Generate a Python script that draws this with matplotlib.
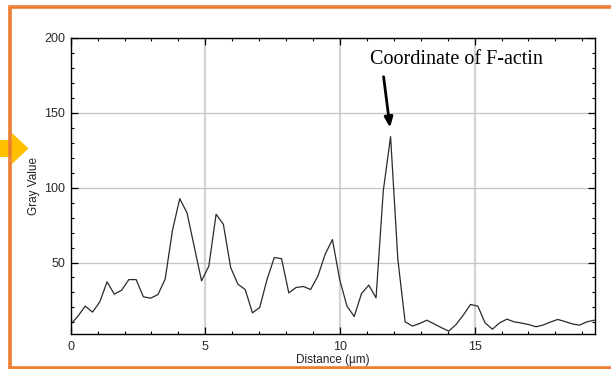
import numpy as np
import matplotlib
matplotlib.use("Agg")
import matplotlib.pyplot as plt
from matplotlib.patches import Polygon

# ==============================
# Profile data
# ==============================

step_um = 0.27  # sampling distance of the line profile
gray_value = [
    8.7, 14.2, 20.9, 16.9, 23.7, 37.1, 28.9, 31.5, 38.6, 38.6,
    27.1, 26.2, 28.6, 39.0, 71.5, 92.6, 83.1, 60.4, 37.8, 47.5,
    82.2, 75.5, 46.7, 35.5, 32.0, 16.4, 20.0, 38.6, 53.3, 52.6,
    29.7, 33.3, 34.0, 32.0, 40.9, 55.5, 65.3, 38.6, 20.9, 14.0,
    29.3, 34.9, 26.4, 98.0, 134.0, 52.0, 10.4, 7.6, 9.3, 11.5,
    9.0, 6.5, 4.2, 8.6, 14.9, 22.0, 20.9, 9.7, 5.5, 9.7,
    12.2, 10.4, 9.6, 8.6, 7.1, 8.3, 10.3, 12.0, 10.6, 9.0,
    8.2, 10.4, 11.5,
]
distance = np.arange(len(gray_value)) * step_um

x_major = [0, 5, 10, 15]
y_major = [50, 100, 150, 200]
annotation_text = "Coordinate of F-actin"
peak_idx = int(np.argmax(gray_value))

# ==============================
# Figure
# ==============================

plt.rcParams['font.family'] = ['Liberation Sans', 'DejaVu Sans']

fig = plt.figure(figsize=(6.11, 3.69), dpi=100)
ax = fig.add_axes([0.1157, 0.0957, 0.8576, 0.8021])

ax.plot(distance, gray_value, color="#2a2a2a", linewidth=0.9)

ax.set_xlim(0, distance[-1] + 0.02)
ax.set_ylim(2.5, 200)
ax.set_xticks(x_major)
ax.set_yticks(y_major)
ax.set_xticks(np.arange(0, 20, 1), minor=True)
ax.set_yticks(np.arange(10, 201, 10), minor=True)
ax.set_yticklabels(["50", "100", "150", "200"])

ax.tick_params(which="both", direction="in", top=True, right=True,
               colors="black", labelcolor="#2a2a2a", labelsize=9)
ax.tick_params(which="major", length=5, width=0.9)
ax.tick_params(which="minor", length=2.5, width=0.8)
ax.tick_params(axis="x", pad=5)
ax.tick_params(axis="y", pad=4)

ax.xaxis.grid(True, which="major", color="#d4d4d4", linewidth=1.6)
ax.yaxis.grid(True, which="major", color="#c4c4c4", linewidth=0.9)
ax.set_axisbelow(True)
for sp in ax.spines.values():
    sp.set_linewidth(1.0)
    sp.set_color("black")

ax.set_xlabel("Distance (µm)", fontsize=8.5, color="#222222", labelpad=1)
ax.set_ylabel("Gray Value", fontsize=8.5, color="#222222", labelpad=3)

# annotation arrow pointing at the F-actin peak
ax.annotate("", xy=(distance[peak_idx] - 0.02, gray_value[peak_idx] + 6),
            xytext=(11.62, 174),
            arrowprops=dict(arrowstyle="-|>,head_length=0.6,head_width=0.25",
                            color="black", lw=2.0, shrinkA=0, shrinkB=0))
ax.text(11.12, 182.5, annotation_text, family=["Liberation Serif", "DejaVu Serif"],
        fontsize=14.5, color="black", va="baseline", ha="left")

# orange frame (right side cut off) and yellow pointer arrow
W, H = 611.0, 369.0
frame_x = np.array([611, 9.5, 9.5, 611]) / W
frame_y = 1 - np.array([6.5, 6.5, 367.5, 367.5]) / H
fig.add_artist(plt.Line2D(frame_x, frame_y, color="#ED7D31", linewidth=2.6,
                          transform=fig.transFigure, solid_joinstyle="miter"))

arrow_px = np.array([[0, 140], [12, 140], [12, 133], [28.5, 148.5],
                     [12, 164], [12, 157], [0, 157]])
arrow_fig = np.column_stack([arrow_px[:, 0] / W, 1 - arrow_px[:, 1] / H])
fig.add_artist(Polygon(arrow_fig, closed=True, facecolor="#FFC000",
                       edgecolor="none", transform=fig.transFigure))

fig.savefig("out.png", dpi=100)
